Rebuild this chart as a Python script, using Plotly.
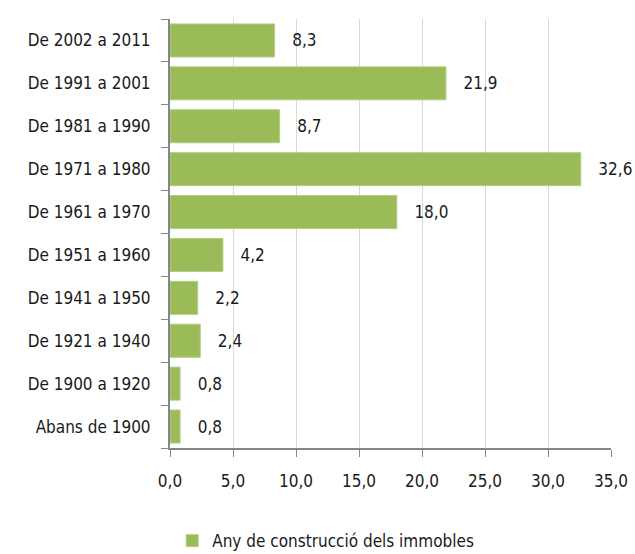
import plotly.graph_objects as go

# Construction period of the buildings (share, %)
periods = [
    "Abans de 1900", "De 1900 a 1920", "De 1921 a 1940", "De 1941 a 1950",
    "De 1951 a 1960", "De 1961 a 1970", "De 1971 a 1980", "De 1981 a 1990",
    "De 1991 a 2001", "De 2002 a 2011",
]
shares = [0.8, 0.8, 2.4, 2.2, 4.2, 18.0, 32.6, 8.7, 21.9, 8.3]
x_ticks = [0, 5, 10, 15, 20, 25, 30, 35]
series_name = "Any de construcció dels immobles"

FONT = "Liberation Sans Narrow, Arial Narrow, DejaVu Sans Condensed, sans-serif"
GREEN = "#9bbb59"
AXIS = "#868686"
TEXT = "#1a1a1a"

labels = ["\u00a0\u00a0\u00a0" + f"{v:.1f}".replace(".", ",") for v in shares]

fig = go.Figure(
    go.Bar(
        x=shares,
        y=periods,
        orientation="h",
        name=series_name,
        marker=dict(color=GREEN, line=dict(color="#b3cd85", width=1)),
        width=0.77,
        text=labels,
        textposition="outside",
        textfont=dict(family=FONT, size=17, color=TEXT),
        cliponaxis=False,
    )
)

fig.update_layout(
    width=635,
    height=554,
    margin=dict(l=170, r=24, t=19, b=106, autoexpand=False),
    paper_bgcolor="white",
    plot_bgcolor="white",
    separators=",.",
    font=dict(family=FONT, size=17, color=TEXT),
    showlegend=True,
    legend=dict(
        orientation="h",
        x=0.005,
        xanchor="left",
        y=-0.217,
        yanchor="middle",
        font=dict(family=FONT, size=17, color=TEXT),
    ),
)

fig.update_xaxes(
    range=[0, 35],
    tickvals=x_ticks,
    tickformat=".1f",
    showgrid=True,
    gridcolor="#d9d9d9",
    gridwidth=1,
    showline=True,
    linecolor=AXIS,
    linewidth=2,
    ticks="outside",
    ticklen=7,
    tickcolor=AXIS,
    tickwidth=1,
    zeroline=False,
    ticklabelstandoff=10,
)
fig.update_yaxes(
    categoryorder="array",
    categoryarray=periods,
    showline=True,
    linecolor=AXIS,
    linewidth=2,
    ticks="outside",
    tickson="boundaries",
    ticklen=7,
    tickcolor=AXIS,
    tickwidth=1,
    showgrid=False,
    ticklabelstandoff=14,
)

fig.write_html("out.html")
